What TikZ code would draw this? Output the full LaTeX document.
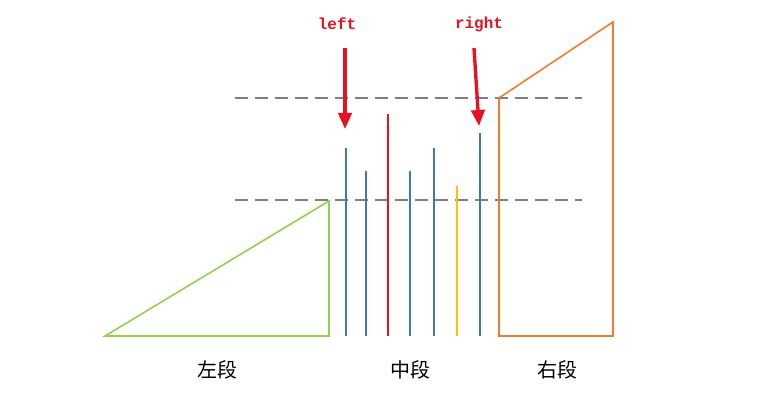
\documentclass[tikz,border=0pt]{standalone}
\usepackage{fontspec}
\newfontfamily\cjk{Noto Sans CJK SC}
\newfontfamily\monob{Liberation Mono}
\usetikzlibrary{arrows.meta}
\definecolor{cblue}{HTML}{4472C4}
\definecolor{cgreen}{HTML}{92D050}
\definecolor{corange}{HTML}{ED7D31}
\definecolor{cyellow}{HTML}{FFC000}
\definecolor{cred}{HTML}{E81123}
\definecolor{cgray}{HTML}{7F7F7F}
\begin{document}
\begin{tikzpicture}[x=0.75pt,y=-0.75pt,
  dashline/.style={draw=cgray,line width=1.1pt,dash pattern=on 10pt off 5pt},
  bar/.style={line width=1.2pt},
  redarrow/.style={draw=cred,line width=2.5pt,-{Triangle[length=12pt,width=10pt]}},
  lab/.style={font=\monob\bfseries\fontsize{12}{14}\selectfont,text=cred},
  seg/.style={font=\cjk\fontsize{15}{18}\selectfont}]
\useasboundingbox (0,0) rectangle (770,413);
\draw[dashline] (235,98) -- (582,98);
\draw[dashline] (235,200) -- (582,200);
\draw[line width=1.2pt,draw=cgreen] (105,336) -- (329,336) -- (329,201) -- cycle;
\draw[line width=1.2pt,draw=corange] (499,336) -- (499,98) -- (613,22) -- (613,336) -- cycle;
\draw[bar,cblue] (346,148) -- (346,336);
\draw[bar,cblue] (366,171) -- (366,336);
\draw[bar,cred] (388,114) -- (388,336);
\draw[bar,cblue] (410,171) -- (410,336);
\draw[bar,cblue] (434,148) -- (434,336);
\draw[bar,cyellow] (457,186) -- (457,336);
\draw[bar,cblue] (480,133) -- (480,336);
\node[lab] (l) at (337,24) {left};
\node[lab] (r) at (479,24) {right};
\coordinate (lt) at (345,129);
\coordinate (rt) at (479,126);
\coordinate (ls) at (345,48);
\coordinate (rs) at (474,48);
\draw[redarrow] (ls) -- (lt);
\draw[redarrow] (rs) -- (rt);
\node[seg] (a) at (217,370) {左段};
\node[seg] (b) at (410,370) {中段};
\node[seg] (c) at (557,370) {右段};
\end{tikzpicture}
\end{document}
